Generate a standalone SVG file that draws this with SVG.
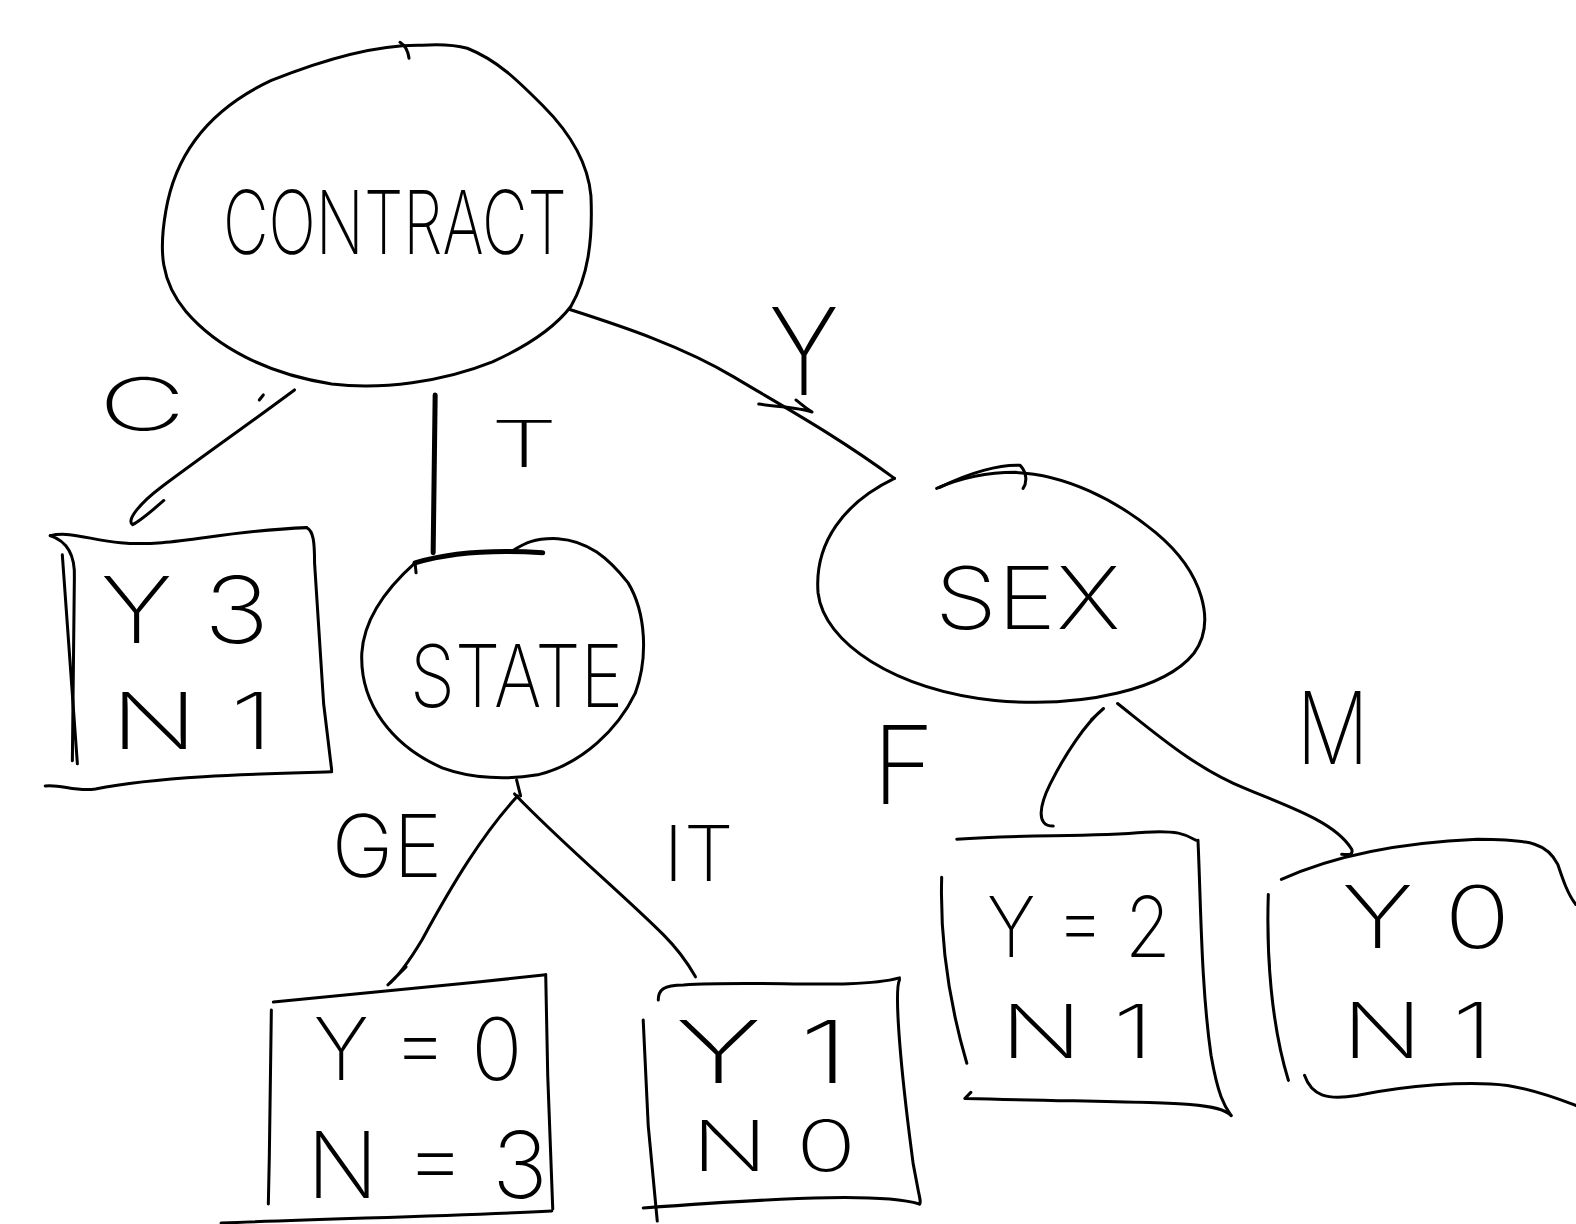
<svg xmlns="http://www.w3.org/2000/svg" width="1576" height="1224" viewBox="0 0 1576 1224">
  <style>
    .ink { fill: none; stroke: #000; stroke-width: 3; stroke-linecap: round; stroke-linejoin: round; }
    .bold { stroke-width: 5; }
    .hand { font-family: Inter, "Noto Sans", "DejaVu Sans", sans-serif; font-weight: 200; fill: #000; }
  </style>
  <rect width="1576" height="1224" fill="#fff"/>
  <g transform="scale(1.005)">
    <!-- decision node: CONTRACT -->
    <g id="node-contract">
      <path class="ink" d="M 398 42 C 403 45 406 50 407 58"/>
      <path class="ink" d="M 420 45 C 380 44 330 56 270 80 C 210 108 175 150 165 210 C 158 250 160 280 185 310 C 215 345 265 372 330 382 C 380 388 440 380 490 360 C 530 342 555 322 568 305 C 585 275 590 240 588 195 C 585 160 565 130 540 105 C 515 80 495 60 465 48 C 450 44 435 44 420 45"/>
      <text class="hand" x="222" y="253" font-size="88" textLength="342" lengthAdjust="spacingAndGlyphs">CONTRACT</text>
    </g>

    <!-- decision node: STATE -->
    <g id="node-state">
      <path class="ink" d="M 413 560 C 385 585 362 615 360 650 C 358 700 390 742 440 764 C 470 775 505 776 535 771 C 580 760 615 725 632 690 C 645 655 643 610 625 580 C 605 555 585 538 555 536 C 530 535 520 542 510 548"/>
      <path class="ink bold" d="M 413 560 C 440 552 480 546 540 550"/>
      <path class="ink" d="M 413 560 L 414 570"/>
      <path class="ink" d="M 514 776 L 518 792"/>
      <text class="hand" x="408" y="703" font-size="86" textLength="212" lengthAdjust="spacingAndGlyphs">STATE</text>
    </g>

    <!-- decision node: SEX -->
    <g id="node-sex">
      <path class="ink" d="M 890 476 C 840 500 810 540 814 590 C 820 640 890 686 990 697 C 1080 705 1160 685 1188 650 C 1210 620 1198 570 1150 530 C 1110 497 1060 472 1010 470 C 980 470 955 476 932 486"/>
      <path class="ink" d="M 935 485 C 965 470 995 462 1015 463 C 1022 470 1022 480 1018 486"/>
      <text class="hand" x="930" y="626" font-size="86" textLength="185" lengthAdjust="spacingAndGlyphs">SEX</text>
    </g>

    <!-- leaf: contract = C -->
    <g id="leaf-c">
      <path class="ink" d="M 50 533 C 70 528 92 538 120 540 C 170 545 220 528 305 525"/>
      <path class="ink" d="M 305 525 C 312 528 313 540 313 560 L 322 700 L 330 766"/>
      <path class="ink" d="M 330 768 C 260 770 160 772 95 785 C 75 788 60 780 45 782"/>
      <path class="ink" d="M 62 552 L 77 760"/>
      <path class="ink" d="M 50 533 C 65 538 75 550 74 575 L 72 757"/>
      <text class="hand" x="100" y="640" font-size="92" textLength="168" lengthAdjust="spacingAndGlyphs">Y 3</text>
      <text class="hand" x="110" y="745" font-size="78" textLength="162" lengthAdjust="spacingAndGlyphs">N 1</text>
    </g>

    <!-- leaf: state = GE -->
    <g id="leaf-ge">
      <path class="ink" d="M 272 997 C 350 990 450 980 543 970"/>
      <path class="ink" d="M 543 970 L 545 1070 L 550 1203"/>
      <path class="ink" d="M 549 1205 C 450 1210 350 1212 220 1217"/>
      <path class="ink" d="M 270 1005 L 268 1150 L 267 1198"/>
      <text class="hand" x="312" y="1075" font-size="86" textLength="208" lengthAdjust="spacingAndGlyphs">Y = 0</text>
      <text class="hand" x="305" y="1192" font-size="92" textLength="240" lengthAdjust="spacingAndGlyphs">N = 3</text>
    </g>

    <!-- leaf: state = IT -->
    <g id="leaf-it">
      <path class="ink" d="M 655 995 C 655 985 660 980 680 980 C 760 975 850 985 895 973"/>
      <path class="ink" d="M 895 975 C 890 985 895 1050 905 1130 C 910 1180 918 1195 915 1198"/>
      <path class="ink" d="M 915 1198 C 880 1188 800 1190 640 1202"/>
      <path class="ink" d="M 640 1015 L 645 1120 L 654 1215"/>
      <text class="hand" x="672" y="1078" font-size="86" textLength="173" lengthAdjust="spacingAndGlyphs">Y 1</text>
      <text class="hand" x="688" y="1165" font-size="70" textLength="164" lengthAdjust="spacingAndGlyphs">N 0</text>
    </g>

    <!-- leaf: sex = F -->
    <g id="leaf-f">
      <path class="ink" d="M 952 835 C 1020 830 1080 833 1140 828 C 1170 826 1180 830 1190 836"/>
      <path class="ink" d="M 1192 836 C 1195 900 1195 980 1205 1050 C 1212 1090 1218 1100 1225 1110"/>
      <path class="ink" d="M 1225 1110 C 1210 1095 1160 1098 960 1093 L 966 1087"/>
      <path class="ink" d="M 937 873 C 935 940 945 1000 962 1058"/>
      <text class="hand" x="982" y="952" font-size="84" textLength="183" lengthAdjust="spacingAndGlyphs">Y = 2</text>
      <text class="hand" x="995" y="1053" font-size="74" textLength="153" lengthAdjust="spacingAndGlyphs">N 1</text>
    </g>

    <!-- leaf: sex = M -->
    <g id="leaf-m">
      <path class="ink" d="M 1275 875 C 1330 850 1400 838 1470 835 C 1525 835 1540 840 1550 860 C 1555 875 1560 890 1568 900"/>
      <path class="ink" d="M 1262 890 C 1260 950 1265 1020 1282 1075"/>
      <path class="ink" d="M 1298 1070 C 1305 1090 1320 1095 1350 1090 C 1400 1080 1460 1075 1500 1080 C 1530 1085 1555 1095 1568 1100"/>
      <text class="hand" x="1335" y="943" font-size="86" textLength="168" lengthAdjust="spacingAndGlyphs">Y 0</text>
      <text class="hand" x="1335" y="1053" font-size="76" textLength="150" lengthAdjust="spacingAndGlyphs">N 1</text>
    </g>

    <!-- branches and their labels -->
    <g id="connectors">
      <path class="ink" d="M 293 388 C 250 420 200 455 160 485 C 140 500 125 518 132 522 C 140 518 155 505 163 498"/>
      <path class="ink" d="M 258 398 L 262 393"/>
      <path class="ink bold" d="M 433 393 L 431 550"/>
      <path class="ink" d="M 567 308 C 620 325 680 345 730 375 C 780 405 830 432 890 476"/>
      <path class="ink" d="M 755 402 C 775 405 795 405 808 410 C 800 405 795 400 792 398"/>
      <path class="ink" d="M 515 792 C 480 830 450 880 420 935 C 405 960 392 975 386 980 L 404 962"/>
      <path class="ink" d="M 512 790 C 560 840 620 890 660 930 C 680 950 688 965 692 972"/>
      <path class="ink" d="M 1048 822 C 1030 822 1035 800 1045 780 C 1060 750 1080 720 1098 705 L 1086 716"/>
      <path class="ink" d="M 1112 700 C 1150 730 1190 765 1240 785 C 1290 805 1330 820 1345 845 C 1347 852 1340 850 1335 850"/>

      <text class="hand" x="98" y="428" font-size="72" textLength="87" lengthAdjust="spacingAndGlyphs">C</text>
      <text class="hand" x="488" y="465" font-size="64" textLength="67" lengthAdjust="spacingAndGlyphs">T</text>
      <text class="hand" x="765" y="393" font-size="120" textLength="70" lengthAdjust="spacingAndGlyphs">Y</text>
      <text class="hand" x="330" y="873" font-size="86" textLength="110" lengthAdjust="spacingAndGlyphs">GE</text>
      <text class="hand" x="660" y="877" font-size="76" textLength="70" lengthAdjust="spacingAndGlyphs">IT</text>
      <text class="hand" x="868" y="800" font-size="108" textLength="62" lengthAdjust="spacingAndGlyphs">F</text>
      <text class="hand" x="1290" y="760" font-size="100" textLength="72" lengthAdjust="spacingAndGlyphs">M</text>
    </g>
  </g>
</svg>
